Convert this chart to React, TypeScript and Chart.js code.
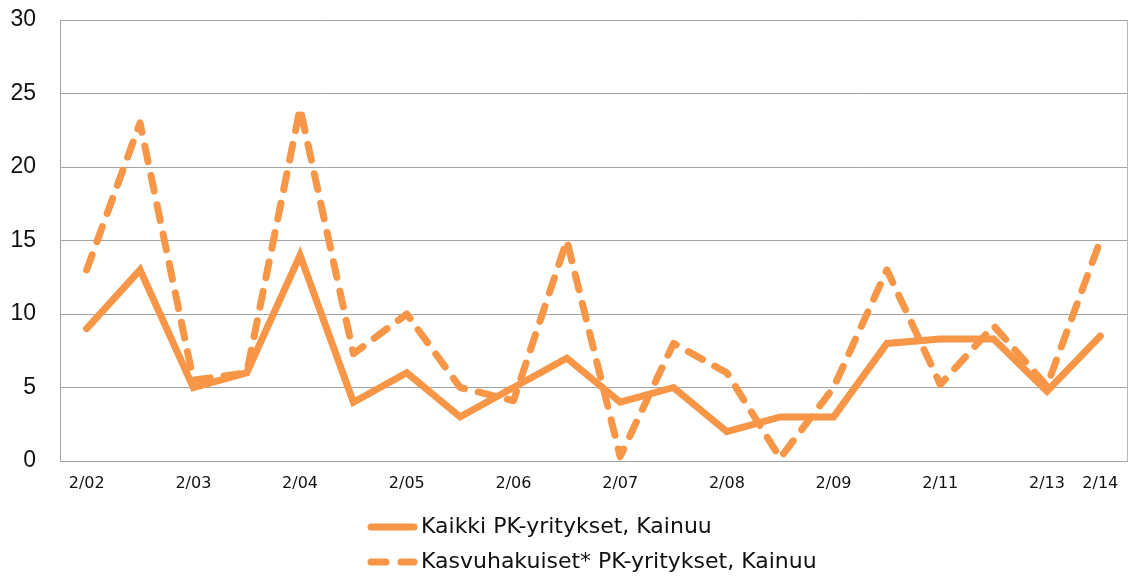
import React, { useEffect, useRef } from "react";
import { Chart, registerables } from "chart.js";

Chart.register(...registerables);

const categories: string[] = [
  "2/02", "", "2/03", "", "2/04", "", "2/05", "", "2/06", "",
  "2/07", "", "2/08", "", "2/09", "", "2/11", "", "2/13", "2/14",
];

const allSmeValues: number[] = [
  9, 13, 5, 6, 14, 4, 6, 3, 5, 7, 4, 5, 2, 3, 3, 8, 8.3, 8.3, 4.75, 8.5,
];

const growthSmeValues: number[] = [
  13, 23, 5.5, 6, 24, 7.3, 10, 5, 4.1, 15, 0.3, 8, 6, 0.2, 5, 13, 5.2, 9.2, 5.1, 15,
];

const seriesNames: string[] = [
  "Kaikki PK-yritykset, Kainuu",
  "Kasvuhakuiset* PK-yritykset, Kainuu",
];

const yTicks: number[] = [0, 5, 10, 15, 20, 25, 30];

const ORANGE = "#F79646";
const GRID = "#a3a3a3";

const framePlugin = {
  id: "frameAndLegend",
  afterDraw(chart: any) {
    const { ctx, chartArea } = chart;
    ctx.save();
    ctx.strokeStyle = "#b8b8b8";
    ctx.lineWidth = 1;
    ctx.beginPath();
    ctx.moveTo(Math.round(chartArea.right) + 0.5, chartArea.top);
    ctx.lineTo(Math.round(chartArea.right) + 0.5, chartArea.bottom);
    ctx.stroke();

    const x0 = 368;
    const x1 = 417;
    const rows = [527, 562];
    ctx.font = '22px "DejaVu Sans"';
    ctx.textBaseline = "middle";
    ctx.textAlign = "left";
    chart.data.datasets.forEach((ds: any, i: number) => {
      const y = rows[i];
      ctx.strokeStyle = ds.borderColor;
      ctx.lineWidth = 7;
      ctx.lineCap = "round";
      ctx.setLineDash(ds.borderDash && ds.borderDash.length ? [15, 15] : []);
      ctx.beginPath();
      ctx.moveTo(x0 + 3, y);
      ctx.lineTo(x1 - 3, y);
      ctx.stroke();
      ctx.setLineDash([]);
      ctx.fillStyle = "#111";
      ctx.fillText(ds.label, x1 + 4, y);
    });
    ctx.restore();
  },
};

export default function App() {
  const canvasRef = useRef<HTMLCanvasElement | null>(null);

  useEffect(() => {
    if (!canvasRef.current) return;
    const chart = new Chart(canvasRef.current, {
      type: "line",
      data: {
        labels: categories,
        datasets: [
          {
            label: seriesNames[0],
            data: allSmeValues,
            borderColor: ORANGE,
            backgroundColor: ORANGE,
            borderWidth: 7,
            pointRadius: 0,
            tension: 0,
            borderCapStyle: "round",
            borderJoinStyle: "miter",
            fill: false,
          },
          {
            label: seriesNames[1],
            data: growthSmeValues,
            borderColor: ORANGE,
            backgroundColor: ORANGE,
            borderWidth: 7,
            borderDash: [16, 14],
            pointRadius: 0,
            tension: 0,
            borderCapStyle: "round",
            borderJoinStyle: "round",
            fill: false,
          },
        ],
      },
      options: {
        animation: false,
        responsive: true,
        maintainAspectRatio: false,
        layout: { padding: { top: 20, right: 6, bottom: 77, left: 0 } },
        plugins: {
          legend: { display: false },
          tooltip: { enabled: false },
        },
        scales: {
          x: {
            type: "category",
            offset: true,
            grid: { display: false, drawTicks: false },
            border: { display: true, color: GRID, width: 1 },
            ticks: {
              autoSkip: false,
              maxRotation: 0,
              minRotation: 0,
              padding: 13,
              color: "#111",
              font: { family: '"DejaVu Sans"', size: 16 },
            },
            afterFit: (scale: any) => {
              scale.height = 40;
              scale.paddingLeft = 0;
              scale.paddingRight = 0;
            },
          },
          y: {
            min: 0,
            max: 30,
            afterBuildTicks: (scale: any) => {
              scale.ticks = yTicks.map((v) => ({ value: v }));
            },
            grid: { color: GRID, lineWidth: 1, drawTicks: false },
            border: { display: true, color: GRID, width: 1 },
            ticks: {
              padding: 24,
              color: "#111",
              font: { family: '"Liberation Sans"', size: 23 },
            },
            afterFit: (scale: any) => {
              scale.width = 60;
              scale.paddingTop = 0;
              scale.paddingBottom = 0;
            },
          },
        },
      },
      plugins: [framePlugin],
    });
    return () => chart.destroy();
  }, []);

  return (
    <div
      style={{
        position: "absolute",
        left: 0,
        top: 0,
        width: 1133,
        height: 578,
        background: "#fff",
      }}
    >
      <canvas ref={canvasRef} />
    </div>
  );
}
